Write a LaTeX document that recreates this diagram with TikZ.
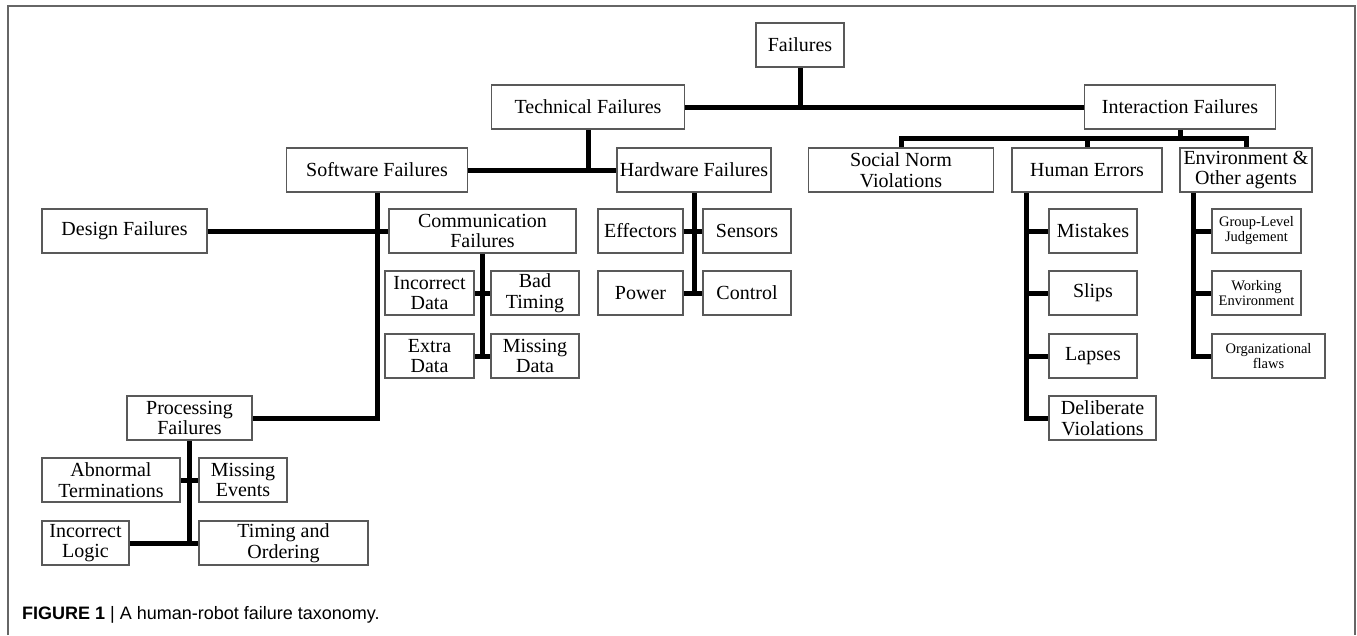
\documentclass[tikz,border=0pt]{standalone}
\usepackage{fontspec}
\setmainfont{Liberation Serif}
\setsansfont{Liberation Sans}

\begin{document}
\begin{tikzpicture}[x=1pt, y=-1pt,
  tbox/.style={draw=black!65, line width=1.6pt, minimum height=44pt, inner sep=1pt, align=center, font=\fontsize{20}{20.5}\selectfont},
  smallbox/.style={tbox, font=\fontsize{14.5}{15}\selectfont},
  branch/.style={line width=5pt}]
\useasboundingbox (0,0) rectangle (1357,635);
\draw[black!60, line width=1.2pt] (8,635) -- (8,6) -- (1355,6) -- (1355,635);

% top levels
\node[tbox, minimum width=88pt] (fail) at (800,45) {Failures};
\node[tbox, minimum width=193pt] (tech) at (588,107) {Technical Failures};
\node[tbox, minimum width=191pt] (inter) at (1180,107) {Interaction Failures};

\node[tbox, minimum width=181pt] (soft) at (377,170) {Software Failures};
\node[tbox, minimum width=154pt] (hard) at (694,170) {Hardware Failures};
\node[tbox, minimum width=185pt] (social) at (901,170) {Social Norm\\Violations};
\node[tbox, minimum width=150pt] (human) at (1087,170) {Human Errors};
\node[tbox, minimum width=132pt] (env) at (1246,170) {Environment \&\\Other agents};

% software
\node[tbox, minimum width=165pt] (design) at (124.5,231) {Design Failures};
\node[tbox, minimum width=187pt] (comm) at (482.5,231) {Communication\\Failures};
\node[tbox, minimum width=89pt] (incdata) at (429.5,293) {Incorrect\\Data};
\node[tbox, minimum width=88pt] (badtime) at (535,293) {Bad\\Timing};
\node[tbox, minimum width=89pt] (extra) at (429.5,356) {Extra\\Data};
\node[tbox, minimum width=88pt] (missdata) at (535,356) {Missing\\Data};
\node[tbox, minimum width=125pt] (proc) at (189.5,418) {Processing\\Failures};
\node[tbox, minimum width=138pt] (abnormal) at (111,480) {Abnormal\\Terminations};
\node[tbox, minimum width=88pt] (missev) at (243,480) {Missing\\Events};
\node[tbox, minimum width=87pt] (inclogic) at (85.5,543) {Incorrect\\Logic};
\node[tbox, minimum width=169pt] (timing) at (283.5,543) {Timing and\\Ordering};

% hardware
\node[tbox, minimum width=85pt] (effect) at (640.5,231) {Effectors};
\node[tbox, minimum width=88pt] (sensors) at (747,231) {Sensors};
\node[tbox, minimum width=85pt] (power) at (640.5,293) {Power};
\node[tbox, minimum width=88pt] (control) at (747,293) {Control};

% human errors
\node[tbox, minimum width=88pt] (mistakes) at (1093,231) {Mistakes};
\node[tbox, minimum width=88pt] (slips) at (1093,293) {Slips};
\node[tbox, minimum width=88pt] (lapses) at (1093,356) {Lapses};
\node[tbox, minimum width=107pt] (delib) at (1102.5,418) {Deliberate\\Violations};

% environment
\node[smallbox, minimum width=89pt] (group) at (1256.5,231) {Group-Level\\Judgement};
\node[smallbox, minimum width=89pt] (working) at (1256.5,293) {Working\\Environment};
\node[smallbox, minimum width=113pt] (organ) at (1268.5,356) {Organizational\\flaws};

% connectors
\draw[branch] (fail.south) -- (fail.south |- tech.east);
\draw[branch] (tech) -- (inter);
\draw[branch] (tech.south) -- (tech.south |- soft.east);
\draw[branch] (soft) -- (hard);

\coordinate (ibar) at (1180,138);
\draw[branch] (inter.south) -- (ibar);
\draw[branch] (social.north) -- (social.north |- ibar) -- (env.north |- ibar) -- (env.north);
\draw[branch] (human.north) -- (human.north |- ibar);

\draw[branch] (soft.south) -- (soft.south |- proc.east) -- (proc.east);
\draw[branch] (design) -- (comm);
\draw[branch] (comm.south) -- (comm.south |- extra.east);
\draw[branch] (incdata) -- (badtime);
\draw[branch] (extra) -- (missdata);
\draw[branch] (proc.south) -- (proc.south |- timing.west);
\draw[branch] (abnormal) -- (missev);
\draw[branch] (inclogic) -- (timing);

\draw[branch] (hard.south) -- (hard.south |- power.east);
\draw[branch] (effect) -- (sensors);
\draw[branch] (power) -- (control);

\path ([xshift=15pt]human.south west) coordinate (hx);
\draw[branch] (hx) -- (hx |- delib.west) -- (delib.west);
\draw[branch] (hx |- mistakes.west) -- (mistakes.west);
\draw[branch] (hx |- slips.west) -- (slips.west);
\draw[branch] (hx |- lapses.west) -- (lapses.west);

\path ([xshift=14pt]env.south west) coordinate (ex);
\draw[branch] (ex) -- (ex |- organ.west) -- (organ.west);
\draw[branch] (ex |- group.west) -- (group.west);
\draw[branch] (ex |- working.west) -- (working.west);

\node[anchor=base west, inner sep=0pt, font=\sffamily\fontsize{18}{18}\selectfont] (caption) at (22,619) {\textbf{FIGURE 1} | A human-robot failure taxonomy.};
\end{tikzpicture}
\end{document}
